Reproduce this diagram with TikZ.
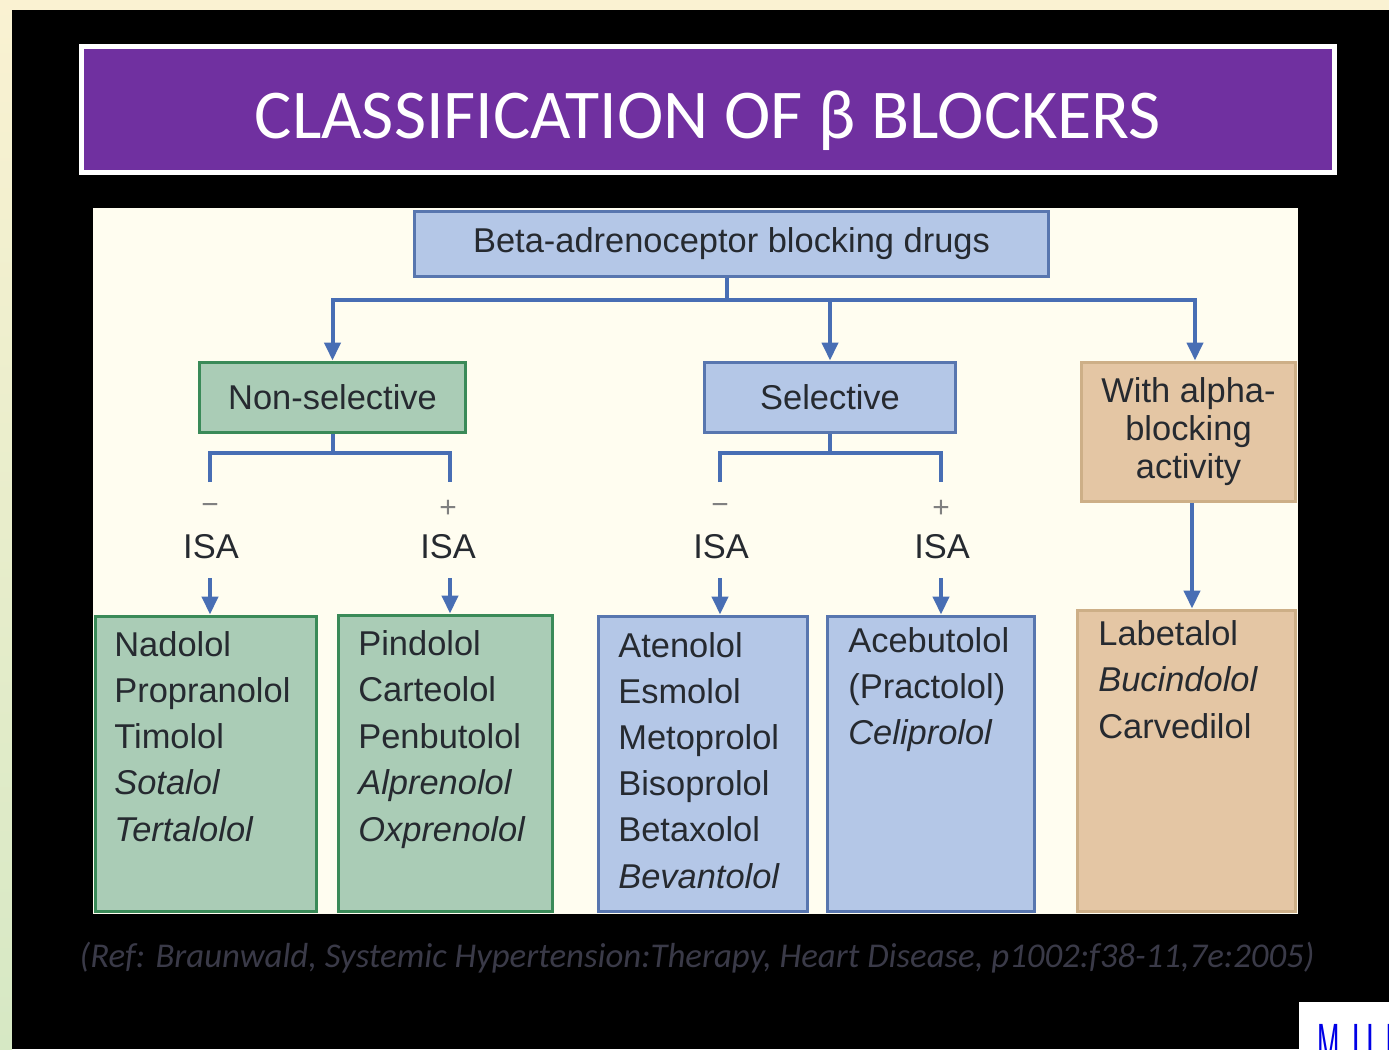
\documentclass[tikz,border=0pt]{standalone}
\usepackage{fontspec}
\setmainfont{Liberation Sans}
\newfontfamily\calib{Carlito}
\usetikzlibrary{arrows.meta}
\definecolor{cream}{RGB}{255,253,240}
\definecolor{bgyel}{RGB}{250,242,210}
\definecolor{bggreen}{RGB}{214,232,196}
\definecolor{purp}{RGB}{112,48,160}
\definecolor{bfill}{RGB}{180,199,231}
\definecolor{bdraw}{RGB}{88,118,175}
\definecolor{gfill}{RGB}{170,204,182}
\definecolor{gdraw}{RGB}{58,138,88}
\definecolor{tfill}{RGB}{228,198,164}
\definecolor{tdraw}{RGB}{205,175,135}
\definecolor{conncol}{RGB}{72,110,180}
\definecolor{txt}{RGB}{38,42,48}
\definecolor{reftxt}{RGB}{58,58,72}
\definecolor{mublue}{RGB}{0,0,230}
\begin{document}
\begin{tikzpicture}[x=0.02cm,y=-0.02cm,
 box/.style={draw, line width=0.06cm, inner sep=0, text=txt, font=\fontsize{19.6}{23}\selectfont},
 bluebox/.style={box, fill=bfill, draw=bdraw},
 greenbox/.style={box, fill=gfill, draw=gdraw},
 tanbox/.style={box, fill=tfill, draw=tdraw},
 conn/.style={draw=conncol, line width=0.08cm},
 arr/.style={conn, -{Triangle[width=0.32cm,length=0.36cm]}},
 item/.style={anchor=base west, inner sep=0, text=txt, font=\fontsize{19.6}{23}\selectfont},
 lbl/.style={inner sep=0, text=txt, font=\fontsize{19.6}{23}\selectfont},
 sign/.style={inner sep=0, text=black!50, font=\fontsize{17}{19}\selectfont},
 mul/.style={anchor=base, inner sep=0, text=mublue, font=\fontsize{34}{34}\selectfont}]
\useasboundingbox (0,0) rectangle (1389,1049);
% background
\fill[bgyel] (0,0) rectangle (1389,1049);
\shade[top color=bgyel, bottom color=bggreen] (0,0) rectangle (12,1049);
\fill[black] (12,10) rectangle (1389,1049);
% title
\node[draw=white, line width=0.1cm, fill=purp, minimum width=25.06cm, minimum height=2.52cm, inner sep=0] (titlebox) at (708,109.5) {};
\node[anchor=base, inner sep=0, text=white, font=\calib\fontsize{39.8}{45}\selectfont] (title) at (708,138) {CLASSIFICATION OF β BLOCKERS};
% panel
\fill[cream] (93,208) rectangle (1298,914);
% boxes
\node[bluebox, minimum width=12.7cm, minimum height=1.3cm] (top) at (731.5,243.5) {Beta-adrenoceptor blocking drugs};
\node[greenbox, minimum width=5.34cm, minimum height=1.4cm] (nonsel) at (332.5,397) {Non-selective};
\node[bluebox, minimum width=5.04cm, minimum height=1.4cm] (sel) at (830,397) {Selective};
\node[tanbox, minimum width=4.3cm, minimum height=2.8cm, align=center, font=\fontsize{19.6}{21.6}\selectfont] (alpha) at (1188.5,432) {With alpha-\\blocking\\activity};
\node[greenbox, minimum width=4.44cm, minimum height=5.92cm] (box1) at (206,764) {};
\node[greenbox, minimum width=4.3cm, minimum height=5.94cm] (box2) at (445.5,763.5) {};
\node[bluebox, minimum width=4.2cm, minimum height=5.92cm] (box3) at (703,764) {};
\node[bluebox, minimum width=4.16cm, minimum height=5.92cm] (box4) at (931,764) {};
\node[tanbox, minimum width=4.38cm, minimum height=6.04cm] (box5) at (1186.5,761) {};
% connectors from top
\coordinate (hub) at (727,300);
\coordinate (alt) at ([xshift=0.13cm]alpha.north);
\draw[conn] (top.south -| hub) -- (hub);
\draw[arr] (hub) -| (nonsel.north);
\draw[arr] (hub) -| (sel.north);
\draw[arr] (hub) -| (alt);
% non-selective bracket
\coordinate (nsj) at (332.5,453);
\coordinate (nsL) at (210,482);
\coordinate (nsR) at (450,482);
\draw[conn] (nonsel.south) -- (nsj);
\draw[conn] (nsL) |- (nsj) -| (nsR);
% selective bracket
\coordinate (sj) at (830,453);
\coordinate (sL) at (720,482);
\coordinate (sR) at (941,482);
\draw[conn] (sel.south) -- (sj);
\draw[conn] (sL) |- (sj) -| (sR);
% signs and ISA
\node[sign] (m1) at (210,509) {−};
\node[sign] (p1) at (448,509) {+};
\node[sign] (m2) at (720,509) {−};
\node[sign] (p2) at (941,509) {+};
\node[lbl] (isa1) at (211,547) {ISA};
\node[lbl] (isa2) at (448,547) {ISA};
\node[lbl] (isa3) at (721,547) {ISA};
\node[lbl] (isa4) at (942,547) {ISA};
\coordinate (a1) at (210,578);
\coordinate (a2) at (450,578);
\coordinate (a3) at (720,578);
\coordinate (a4) at (941,578);
\draw[arr] (a1) -- (a1 |- box1.north);
\draw[arr] (a2) -- (a2 |- box2.north);
\draw[arr] (a3) -- (a3 |- box3.north);
\draw[arr] (a4) -- (a4 |- box4.north);
\coordinate (alx) at ([xshift=0.07cm]alpha.south);
\draw[arr] (alx) -- (alx |- box5.north);
% list items
\node[item] (n11) at (114,656) {Nadolol};
\node[item] (n12) at (114,702.3) {Propranolol};
\node[item] (n13) at (114,748.6) {Timolol};
\node[item] (n14) at (114,794.9) {\itshape Sotalol};
\node[item] (n15) at (114,841.2) {\itshape Tertalolol};
\node[item] (n21) at (358,655) {Pindolol};
\node[item] (n22) at (358,701.5) {Carteolol};
\node[item] (n23) at (358,748) {Penbutolol};
\node[item] (n24) at (358,794.5) {\itshape Alprenolol};
\node[item] (n25) at (358,841) {\itshape Oxprenolol};
\node[item] (n31) at (618,657) {Atenolol};
\node[item] (n32) at (618,703.2) {Esmolol};
\node[item] (n33) at (618,749.4) {Metoprolol};
\node[item] (n34) at (618,795.6) {Bisoprolol};
\node[item] (n35) at (618,841.8) {Betaxolol};
\node[item] (n36) at (618,888) {\itshape Bevantolol};
\node[item] (n41) at (848,652) {Acebutolol};
\node[item] (n42) at (848,698) {(Practolol)};
\node[item] (n43) at (848,744) {\itshape Celiprolol};
\node[item] (n51) at (1098,645) {Labetalol};
\node[item] (n52) at (1098,691.5) {\itshape Bucindolol};
\node[item] (n53) at (1098,738) {Carvedilol};
% reference
\node[inner sep=0, text=reftxt, font=\calib\itshape\fontsize{19.8}{23}\selectfont] (ref) at (697,958) {(Ref: Braunwald, Systemic Hypertension:Therapy, Heart Disease, p1002:f38-11,7e:2005)};
% corner logo
\fill[white] (1299,1002) rectangle (1389,1049);
\begin{scope}
\clip (1299,1002) rectangle (1389,1049);
\node[mul] (mu1) at (1329,1065) {\scalebox{0.45}[1]{M}};
\node[mul] (mu2) at (1363.5,1065) {\scalebox{0.5}[1]{U}};
\node[mul] (mu3) at (1390,1065) {\scalebox{0.5}[1]{I}};
\end{scope}
\end{tikzpicture}
\end{document}
